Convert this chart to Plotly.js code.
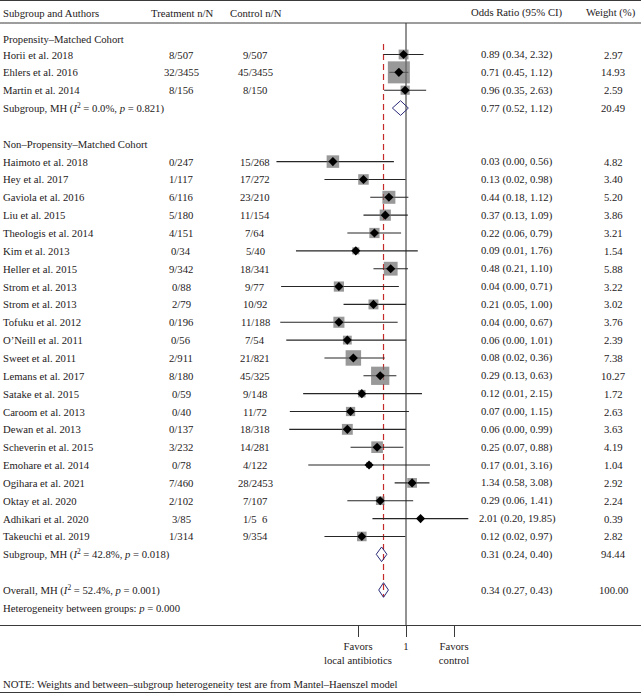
<!DOCTYPE html>
<html><head><meta charset="utf-8">
<script src="https://cdn.plot.ly/plotly-3.0.1.min.js"></script>
<style>html,body{margin:0;padding:0;background:#fff}</style>
</head><body><div id="chart" style="width:641px;height:694px"></div>
<script>
// ---------------- data ----------------
const authors = ["Horii et al. 2018","Ehlers et al. 2016","Martin et al. 2014",
  "Haimoto et al. 2018","Hey et al. 2017","Gaviola et al. 2016","Liu et al. 2015","Theologis et al. 2014",
  "Kim et al. 2013","Heller et al. 2015","Strom et al. 2013","Strom et al. 2013","Tofuku et al. 2012",
  "O\u2019Neill et al. 2011","Sweet et al. 2011","Lemans et al. 2017","Satake et al. 2015","Caroom et al. 2013",
  "Dewan et al. 2013","Scheverin et al. 2015","Emohare et al. 2014","Ogihara et al. 2021","Oktay et al. 2020",
  "Adhikari et al. 2020","Takeuchi et al. 2019"];
const group = [1,1,1, 2,2,2,2,2,2,2,2,2,2,2,2,2,2,2,2,2,2,2,2,2,2];
const treatment = ["8/507","32/3455","8/156","0/247","1/117","6/116","5/180","4/151","0/34","9/342","0/88","2/79",
  "0/196","0/56","2/911","8/180","0/59","0/40","0/137","3/232","0/78","7/460","2/102","3/85","1/314"];
const control = ["9/507","45/3455","8/150","15/268","17/272","23/210","11/154","7/64","5/40","18/341","9/77","10/92",
  "11/188","7/54","21/821","45/325","9/148","11/72","18/318","14/281","4/122","28/2453","7/107","1/5\u00a0\u00a06","9/354"];
const oddsRatio = [0.89,0.71,0.96,0.03,0.13,0.44,0.37,0.22,0.09,0.48,0.04,0.21,0.04,0.06,0.08,0.29,0.12,0.07,0.06,0.25,0.17,1.34,0.29,2.01,0.12];
const ciLow = [0.34,0.45,0.35,0.0020,0.02,0.18,0.13,0.06,0.0051,0.21,0.0025,0.05,0.0024,0.0032,0.02,0.13,0.0072,0.0038,0.0037,0.07,0.0092,0.58,0.06,0.20,0.02];
const ciHigh = [2.32,1.12,2.63,0.56,0.98,1.12,1.09,0.79,1.76,1.10,0.71,1.00,0.67,1.01,0.36,0.63,2.15,1.15,0.99,0.88,3.16,3.08,1.41,19.85,0.97];
const weight = [2.97,14.93,2.59,4.82,3.40,5.20,3.86,3.21,1.54,5.88,3.22,3.02,3.76,2.39,7.38,10.27,1.72,2.63,3.63,4.19,1.04,2.92,2.24,0.39,2.82];

const summaryLabels = ["Subgroup, MH (<i>I</i><sup>2</sup> = 0.0%, <i>p</i> = 0.821)",
  "Subgroup, MH (<i>I</i><sup>2</sup> = 42.8%, <i>p</i> = 0.018)",
  "Overall, MH (<i>I</i><sup>2</sup> = 52.4%, <i>p</i> = 0.001)"];
const summaryOR = [0.77,0.31,0.34];
const summaryLow = [0.52,0.24,0.27];
const summaryHigh = [1.12,0.40,0.43];
const summaryWeight = [20.49,94.44,100.00];

const groupLabels = ["Propensity\u2013Matched Cohort","Non\u2013Propensity\u2013Matched Cohort"];
const headers = ["Subgroup and Authors","Treatment n/N","Control n/N","Odds Ratio (95% CI)","Weight (%)"];
const tickValues = [0.1,1,10];
const tickLabels = ["Favors<br>local antibiotics","1","Favors<br>control"];
const heterogeneityText = "Heterogeneity between groups: <i>p</i> = 0.000";
const noteText = "NOTE: Weights and between\u2013subgroup heterogeneity test are from Mantel\u2013Haenszel model";

// ---------------- layout geometry ----------------
const W = 641, H = 694;
const PX_PER_DEC = 48, X_ONE = 406;
const xRange = [-X_ONE/PX_PER_DEC, (W - X_ONE)/PX_PER_DEC];
const ROW0 = 54.5, ROWH = 17.85;
const pxToRow = p => (p - ROW0)/ROWH + 1;
const yRange = [pxToRow(H), pxToRow(0)];
const py = p => 1 - p/H;        // pixel -> paper y
const px = p => p/W;            // pixel -> paper x

// rows
const studyRow = group.map((g,i) => g === 1 ? 1 + i : 7 + (i - 3));
const summaryRow = [4, 29, 31];
const groupRow = [pxToRow(39), 6];
const hetRow = 32;

const COL = {name: 1, treat: 181, ctrl: 255, or: 517, wt: 613};
const FONT = {family: '"Liberation Serif","Times New Roman",serif', size: 10.7, color: '#1e1a1b'};
const fmt = v => v.toFixed(2);

// ---------------- traces ----------------
const ciX = [], ciY = [];
oddsRatio.forEach((v,i) => { ciX.push(ciLow[i], ciHigh[i], null); ciY.push(studyRow[i], studyRow[i], null); });

const traces = [];
traces.push({type:'scatter', mode:'lines', x: ciX, y: ciY, line:{color:'#262626', width:1.1}, hoverinfo:'skip'});
traces.push({type:'scatter', mode:'markers', x: oddsRatio, y: studyRow,
  marker:{symbol:'square', color:'#6e6e6e', size: weight.map(w => 5.7*Math.sqrt(w)), line:{width:0}}, hoverinfo:'skip'});
traces.push({type:'scatter', mode:'markers', x: oddsRatio, y: studyRow,
  marker:{symbol:'diamond', color:'#000', size: 7, line:{width:0}}, hoverinfo:'skip'});
const DH = 0.41;
summaryOR.forEach((v,i) => {
  const r = summaryRow[i];
  traces.push({type:'scatter', mode:'lines',
    x:[summaryLow[i], v, summaryHigh[i], v, summaryLow[i]],
    y:[r, r - DH, r, r + DH, r],
    line:{color:'#2a2a78', width:1}, hoverinfo:'skip'});
});

// ---------------- annotations ----------------
const ann = [];
const addText = (text, xpx, y, anchor, yref) => ann.push({text, x: px(xpx), xref:'paper', y, yref: yref || 'y',
  xanchor: anchor, yanchor:'middle', showarrow:false, font: FONT});

const hdrY = py(13);
addText(headers[0], COL.name, hdrY, 'left', 'paper');
addText(headers[1], 182, hdrY, 'center', 'paper');
addText(headers[2], 256, hdrY, 'center', 'paper');
addText(headers[3], COL.or, hdrY, 'center', 'paper');
addText(headers[4], 611, hdrY, 'center', 'paper');

groupLabels.forEach((g,i) => addText(g, COL.name, groupRow[i], 'left'));
authors.forEach((a,i) => {
  const r = studyRow[i];
  addText(a, COL.name, r, 'left');
  addText(treatment[i], COL.treat, r, 'center');
  addText(control[i], COL.ctrl, r, 'center');
  addText(`${fmt(oddsRatio[i])} (${fmt(ciLow[i])}, ${fmt(ciHigh[i])})`, COL.or, r, 'center');
  addText(fmt(weight[i]), COL.wt, r, 'center');
});
summaryLabels.forEach((s,i) => {
  const r = summaryRow[i];
  addText(s, COL.name, r, 'left');
  addText(`${fmt(summaryOR[i])} (${fmt(summaryLow[i])}, ${fmt(summaryHigh[i])})`, COL.or, r, 'center');
  addText(fmt(summaryWeight[i]), COL.wt, r, 'center');
});
addText(heterogeneityText, COL.name, hetRow, 'left');
addText(noteText, 1, py(684), 'left', 'paper');

// ---------------- shapes ----------------
const hline = p => ({type:'line', xref:'paper', yref:'paper', x0:0, x1:1, y0:py(p), y1:py(p), line:{color:'#3a3a3a', width:1}});
const shapes = [
  hline(0.5), hline(23), hline(692.5),
  {type:'line', layer:'below', xref:'x', yref:'paper', x0:1, x1:1, y0:py(23), y1:py(625), line:{color:'#262626', width:1}},
  {type:'line', layer:'below', xref:'x', yref:'paper', x0:summaryOR[2], x1:summaryOR[2], y0:py(44), y1:py(597),
    line:{color:'#c42a2a', width:1.2, dash:'6px,4px'}}
];

const layout = {
  width: W, height: H, margin:{l:0, r:0, t:0, b:0}, paper_bgcolor:'#fff', plot_bgcolor:'#fff',
  showlegend:false,
  xaxis:{type:'log', range:xRange, domain:[0,1], anchor:'free', position: 1 - 625/H,
    showline:true, linecolor:'#3a3a3a', linewidth:1, ticks:'outside', ticklen:11, tickcolor:'#3a3a3a', tickwidth:1,
    tickvals: tickValues, ticktext: tickLabels, tickfont: FONT, showgrid:false, zeroline:false, fixedrange:true},
  yaxis:{range:yRange, visible:false, showgrid:false, zeroline:false, fixedrange:true, domain:[0,1]},
  annotations: ann, shapes: shapes
};
Plotly.newPlot('chart', traces, layout, {staticPlot:true, displayModeBar:false});
</script></body></html>
